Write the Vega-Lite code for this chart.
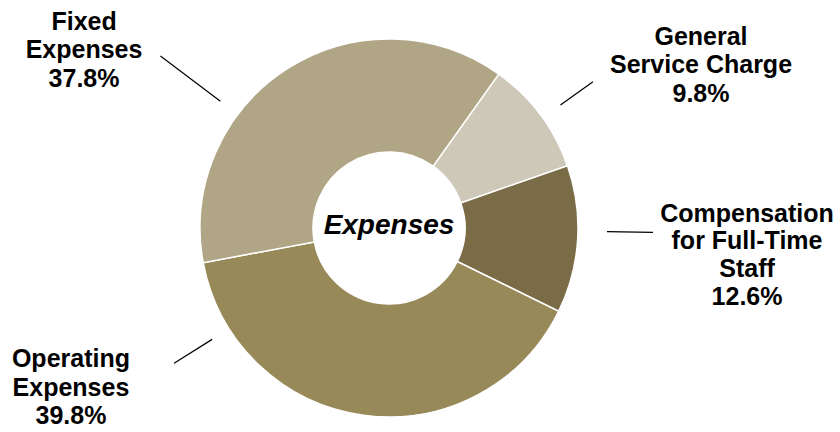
{
  "$schema": "https://vega.github.io/schema/vega-lite/v6.json",
  "width": 778,
  "height": 432,
  "autosize": {"type": "none"},
  "padding": {"left": 0, "top": 12, "right": 62, "bottom": 0},
  "background": "white",
  "config": {"view": {"stroke": null}},
  "datasets": {
    "expenses": [
      {"category": "General Service Charge", "label": "General|Service Charge", "pct": 9.8, "order": 1},
      {"category": "Compensation for Full-Time Staff", "label": "Compensation|for Full-Time|Staff", "pct": 12.6, "order": 2},
      {"category": "Operating Expenses", "label": "Operating|Expenses", "pct": 39.8, "order": 3},
      {"category": "Fixed Expenses", "label": "Fixed|Expenses", "pct": 37.8, "order": 4}
    ],
    "title": [{"title": "Expenses"}]
  },
  "layer": [
    {
      "data": {"name": "expenses"},
      "mark": {"type": "arc", "outerRadius": 189, "innerRadius": 76, "stroke": "white", "strokeWidth": 1.5},
      "encoding": {
        "theta": {"field": "pct", "type": "quantitative", "stack": true, "scale": {"domain": [0, 100], "range": [0.6196, 6.9028]}},
        "order": {"field": "order", "type": "quantitative"},
        "color": {"field": "category", "type": "nominal", "legend": null,
          "scale": {"domain": ["General Service Charge", "Compensation for Full-Time Staff", "Operating Expenses", "Fixed Expenses"],
                    "range": ["#CEC8B8", "#7A6C46", "#978958", "#B0A585"]}}
      }
    },
    {
      "data": {"name": "expenses"},
      "mark": {"type": "arc", "outerRadius": 251, "innerRadius": 211, "padAngle": 3, "filled": false, "stroke": "black", "strokeWidth": 1.2, "thetaOffset": 0.021, "theta2Offset": 0.021},
      "encoding": {
        "theta": {"field": "pct", "type": "quantitative", "stack": true},
        "order": {"field": "order", "type": "quantitative"},
        "detail": {"field": "category"},
        "strokeOpacity": {"condition": {"test": "datum.category === 'General Service Charge'", "value": 1}, "value": 0}
      }
    },
    {
      "data": {"name": "expenses"},
      "mark": {"type": "arc", "outerRadius": 264, "innerRadius": 218, "padAngle": 3, "filled": false, "stroke": "black", "strokeWidth": 1.2, "thetaOffset": -0.044, "theta2Offset": -0.044},
      "encoding": {
        "theta": {"field": "pct", "type": "quantitative", "stack": true},
        "order": {"field": "order", "type": "quantitative"},
        "detail": {"field": "category"},
        "strokeOpacity": {"condition": {"test": "datum.category === 'Compensation for Full-Time Staff'", "value": 1}, "value": 0}
      }
    },
    {
      "data": {"name": "expenses"},
      "mark": {"type": "arc", "outerRadius": 254, "innerRadius": 209, "padAngle": 3, "filled": false, "stroke": "black", "strokeWidth": 1.2, "thetaOffset": 0.873, "theta2Offset": 0.873},
      "encoding": {
        "theta": {"field": "pct", "type": "quantitative", "stack": true},
        "order": {"field": "order", "type": "quantitative"},
        "detail": {"field": "category"},
        "strokeOpacity": {"condition": {"test": "datum.category === 'Operating Expenses'", "value": 1}, "value": 0}
      }
    },
    {
      "data": {"name": "expenses"},
      "mark": {"type": "arc", "outerRadius": 286, "innerRadius": 211, "padAngle": 3, "filled": false, "stroke": "black", "strokeWidth": 1.2, "thetaOffset": -0.358, "theta2Offset": -0.358},
      "encoding": {
        "theta": {"field": "pct", "type": "quantitative", "stack": true},
        "order": {"field": "order", "type": "quantitative"},
        "detail": {"field": "category"},
        "strokeOpacity": {"condition": {"test": "datum.category === 'Fixed Expenses'", "value": 1}, "value": 0}
      }
    },
    {
      "data": {"name": "expenses"},
      "transform": [{"calculate": "datum.label + '|' + format(datum.pct, '.1f') + '%'", "as": "text"}],
      "mark": {"type": "text", "radius": 352, "thetaOffset": 0.162, "dy": -28.5, "font": "Liberation Sans", "fontWeight": "bold", "fontSize": 25, "lineHeight": 28.5, "lineBreak": "|", "align": "center", "baseline": "middle", "color": "black"},
      "encoding": {
        "theta": {"field": "pct", "type": "quantitative", "stack": true},
        "order": {"field": "order", "type": "quantitative"},
        "detail": {"field": "category"},
        "text": {"condition": {"test": "datum.category === 'General Service Charge'", "field": "text"}, "value": ""}
      }
    },
    {
      "data": {"name": "expenses"},
      "transform": [{"calculate": "datum.label + '|' + format(datum.pct, '.1f') + '%'", "as": "text"}],
      "mark": {"type": "text", "radius": 359, "thetaOffset": 0.014, "dy": -41, "font": "Liberation Sans", "fontWeight": "bold", "fontSize": 25, "lineHeight": 27.7, "lineBreak": "|", "align": "center", "baseline": "middle", "color": "black"},
      "encoding": {
        "theta": {"field": "pct", "type": "quantitative", "stack": true},
        "order": {"field": "order", "type": "quantitative"},
        "detail": {"field": "category"},
        "text": {"condition": {"test": "datum.category === 'Compensation for Full-Time Staff'", "field": "text"}, "value": ""}
      }
    },
    {
      "data": {"name": "expenses"},
      "transform": [{"calculate": "datum.label + '|' + format(datum.pct, '.1f') + '%'", "as": "text"}],
      "mark": {"type": "text", "radius": 356, "thetaOffset": 0.969, "dy": -28.5, "font": "Liberation Sans", "fontWeight": "bold", "fontSize": 25, "lineHeight": 28.5, "lineBreak": "|", "align": "center", "baseline": "middle", "color": "black"},
      "encoding": {
        "theta": {"field": "pct", "type": "quantitative", "stack": true},
        "order": {"field": "order", "type": "quantitative"},
        "detail": {"field": "category"},
        "text": {"condition": {"test": "datum.category === 'Operating Expenses'", "field": "text"}, "value": ""}
      }
    },
    {
      "data": {"name": "expenses"},
      "transform": [{"calculate": "datum.label + '|' + format(datum.pct, '.1f') + '%'", "as": "text"}],
      "mark": {"type": "text", "radius": 353, "thetaOffset": -0.475, "dy": -28.5, "font": "Liberation Sans", "fontWeight": "bold", "fontSize": 25, "lineHeight": 28.5, "lineBreak": "|", "align": "center", "baseline": "middle", "color": "black"},
      "encoding": {
        "theta": {"field": "pct", "type": "quantitative", "stack": true},
        "order": {"field": "order", "type": "quantitative"},
        "detail": {"field": "category"},
        "text": {"condition": {"test": "datum.category === 'Fixed Expenses'", "field": "text"}, "value": ""}
      }
    },
    {
      "data": {"name": "title"},
      "mark": {"type": "text", "font": "Liberation Sans", "fontWeight": "bold", "fontStyle": "italic", "fontSize": 28, "align": "center", "baseline": "middle", "color": "black", "dy": -2},
      "encoding": {
        "text": {"field": "title", "type": "nominal"}
      }
    }
  ]
}
